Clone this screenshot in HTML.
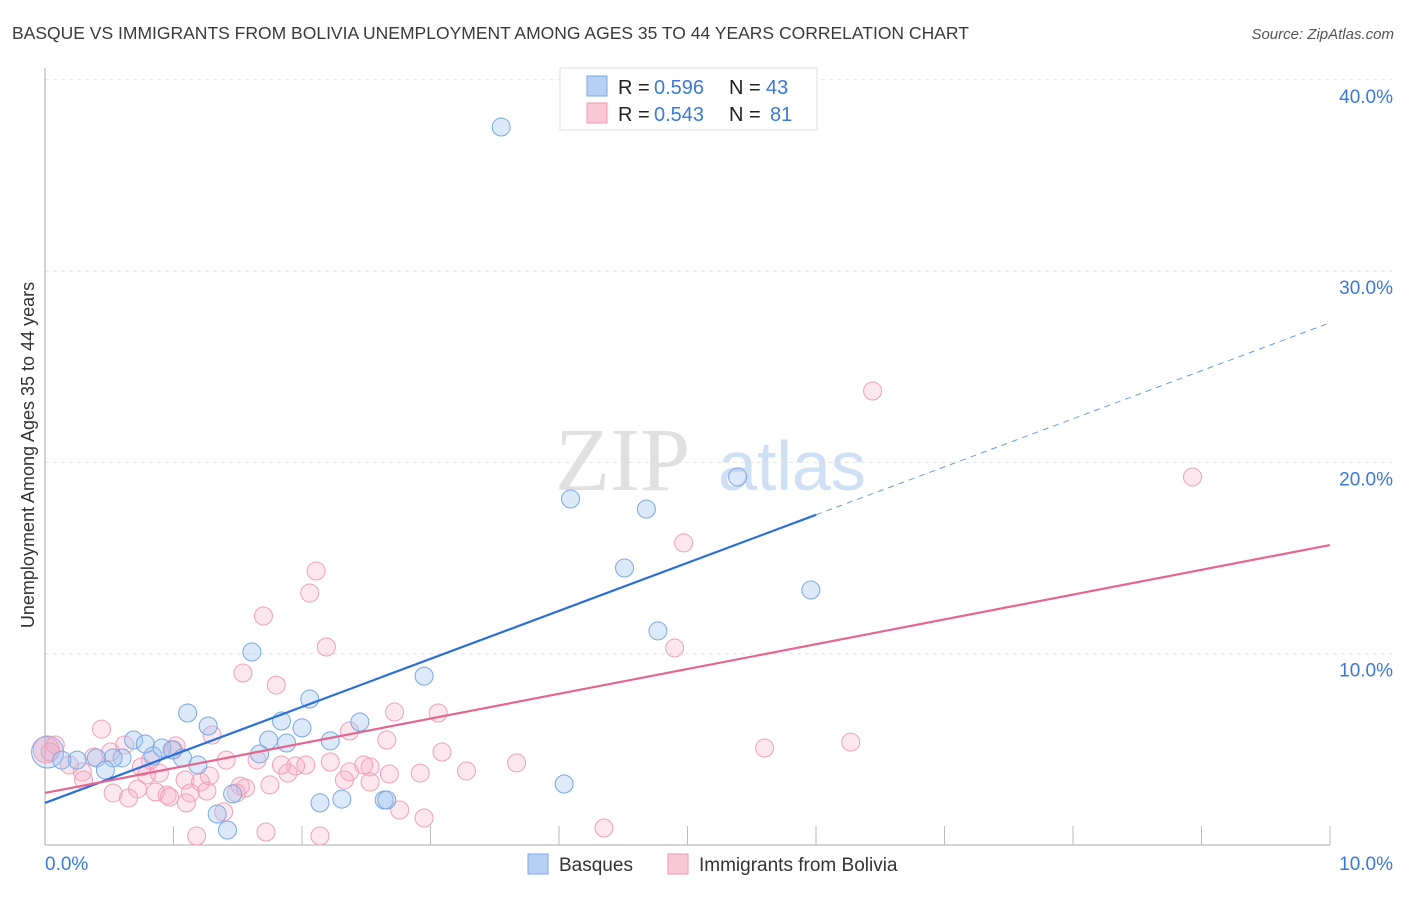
<!DOCTYPE html>
<html><head><meta charset="utf-8"><style>
body{margin:0;background:#fff;font-family:"Liberation Sans",sans-serif}
</style></head><body>
<svg width="1406" height="892" xmlns="http://www.w3.org/2000/svg" style="font-family:'Liberation Sans',sans-serif">
<text x="12" y="39" font-size="17.5" fill="#3a3a3a">BASQUE VS IMMIGRANTS FROM BOLIVIA UNEMPLOYMENT AMONG AGES 35 TO 44 YEARS CORRELATION CHART</text>
<text x="1394" y="39" font-size="15" fill="#555" font-style="italic" text-anchor="end">Source: ZipAtlas.com</text>
<g>
<text x="555" y="490" font-size="90" fill="#e0e0e0" font-family="Liberation Serif,serif">ZIP</text>
<text x="718" y="490" font-size="70" fill="#d0e0f4">atlas</text>
</g>
<g id="grid"></g>
<g id="axes"></g>
<g id="marks"></g>
<text transform="translate(34,455) rotate(-90)" text-anchor="middle" font-size="18" fill="#333">Unemployment Among Ages 35 to 44 years</text>
<g>
<rect x="560" y="68" width="257" height="62" fill="#fff" stroke="#ddd"/>
<rect x="587" y="76" width="20" height="20" fill="#b7d0f4" stroke="#7aa7e4"/>
<rect x="587" y="103" width="20" height="20" fill="#f9c8d6" stroke="#ec9ab4"/>
<text x="618" y="94" font-size="20" fill="#222">R =</text>
<text x="654" y="94" font-size="20" fill="#3b78d8">0.596</text>
<text x="729" y="94" font-size="20" fill="#222">N =</text>
<text x="766" y="94" font-size="20" fill="#3b78d8">43</text>
<text x="618" y="121" font-size="20" fill="#222">R =</text>
<text x="654" y="121" font-size="20" fill="#3b78d8">0.543</text>
<text x="729" y="121" font-size="20" fill="#222">N =</text>
<text x="770" y="121" font-size="20" fill="#3b78d8">81</text>
</g>
<g>
<rect x="528" y="854" width="20" height="20" fill="#b7d0f4" stroke="#7aa7e4"/>
<text x="559" y="871" font-size="19" fill="#333">Basques</text>
<rect x="668" y="854" width="20" height="20" fill="#f9c8d6" stroke="#ec9ab4"/>
<text x="699" y="871" font-size="19" fill="#333">Immigrants from Bolivia</text>
</g>
</svg>
<script>
const yTicks=[10,20,30,40];
const yTickLabels=["10.0%","20.0%","30.0%","40.0%"];
const xTicks=[1,2,3,4,5,6,7,8,9,10];
const basqueX=[3.55,4.09,4.68,5.39,4.51,5.96,4.77,2.95,1.61,2.06,1.11,1.27,1.84,2.00,2.45,1.74,1.88,2.22,1.67,0.69,0.78,0.91,0.99,0.84,1.07,0.60,0.53,0.40,0.25,0.13,1.19,0.47,1.46,2.14,2.31,2.64,2.66,4.04,1.34,1.42];
const basqueY=[37.53,18.09,17.56,19.24,14.48,13.33,11.19,8.83,10.09,7.63,6.90,6.22,6.48,6.12,6.43,5.49,5.33,5.44,4.76,5.49,5.28,5.07,4.97,4.65,4.55,4.55,4.55,4.55,4.44,4.44,4.18,3.92,2.67,2.20,2.40,2.35,2.35,3.19,1.62,0.78];
const boliviaX=[6.44,8.93,4.97,2.11,2.06,1.70,4.90,2.19,1.54,1.80,2.72,3.06,0.44,2.37,1.30,2.66,6.27,5.60,3.09,3.67,3.28,2.92,2.68,2.48,2.53,2.37,2.33,2.53,1.95,2.03,1.89,1.84,1.65,1.41,1.75,1.52,1.56,1.49,1.02,1.00,0.82,0.75,0.79,0.62,0.51,0.38,0.29,0.19,0.08,0.04,1.09,1.21,1.26,1.13,0.95,0.86,0.72,0.65,0.53,0.30,1.10,0.97,1.39,1.18,1.72,2.14,2.76,2.95,4.35,1.28,2.22,0.89];
const boliviaY=[23.73,19.24,15.79,14.32,13.17,11.97,10.30,10.35,8.99,8.36,6.95,6.90,6.06,5.96,5.75,5.49,5.38,5.07,4.86,4.29,3.87,3.76,3.71,4.18,4.08,3.82,3.40,3.29,4.13,4.18,3.76,4.18,4.44,4.44,3.14,3.08,2.98,2.72,5.18,4.97,4.44,4.08,3.66,5.23,4.86,4.60,3.82,4.18,5.23,4.86,3.40,3.29,2.82,2.72,2.61,2.77,2.93,2.46,2.72,3.40,2.20,2.51,1.73,0.47,0.68,0.47,1.83,1.41,0.89,3.61,4.34,3.76];
const basqueTrend=[2.2,27.3];
const boliviaTrend=[2.72,15.68];
const NS="http://www.w3.org/2000/svg";
const X=v=>45+v/10*1285, Y=v=>845-v*19.13;
function mk(p,t,a){const e=document.createElementNS(NS,t);for(const k in a)e.setAttribute(k,a[k]);p.appendChild(e);return e;}
const grid=document.getElementById('grid'),axes=document.getElementById('axes'),marks=document.getElementById('marks');
yTicks.forEach((t,i)=>{
 const l=mk(grid,'line',{x1:45,x2:1392,y1:Y(t),y2:Y(t),stroke:'#e2e2e2','stroke-dasharray':'4,4'});
 
 
 const tx=mk(axes,'text',{x:1393,y:Y(t)+23,'text-anchor':'end','font-size':19,fill:'#3b78d8'});
 tx.textContent=yTickLabels[i];
 
 
});
mk(axes,'line',{x1:45,x2:45,y1:68,y2:845,stroke:'#aaa'});
mk(axes,'line',{x1:45,x2:1330,y1:845,y2:845,stroke:'#aaa'});
xTicks.forEach(t=>{const l=mk(axes,'line',{x1:X(t),x2:X(t),y1:826,y2:845,stroke:'#bbb'});
 
 });
let t0=mk(axes,'text',{x:45,y:870,'font-size':19,fill:'#3b78d8'});t0.textContent='0.0%';


let t1=mk(axes,'text',{x:1393,y:870,'font-size':19,fill:'#3b78d8','text-anchor':'end'});t1.textContent='10.0%';


const b0=mk(marks,'circle',{cx:X(0.02),cy:Y(4.86),r:16,fill:'rgba(163,196,240,0.35)',stroke:'#7aa7e4','stroke-width':1});


const p0=mk(marks,'circle',{cx:X(0.01),cy:Y(4.97),r:13,fill:'rgba(240,150,180,0.3)',stroke:'#eea0b8','stroke-width':1});


boliviaX.forEach((x,i)=>{const c=mk(marks,'circle',{cx:X(x),cy:Y(boliviaY[i]),r:9,fill:'rgba(245,170,195,0.28)',stroke:'#eea0b8','stroke-width':1});
 
 });
basqueX.forEach((x,i)=>{const c=mk(marks,'circle',{cx:X(x),cy:Y(basqueY[i]),r:9,fill:'rgba(163,196,240,0.38)',stroke:'#7aa7e4','stroke-width':1});
 
 });
const bt=v=>basqueTrend[0]+(basqueTrend[1]-basqueTrend[0])*v/10;
const pt=v=>boliviaTrend[0]+(boliviaTrend[1]-boliviaTrend[0])*v/10;
let l1=mk(marks,'line',{x1:X(0),y1:Y(bt(0)),x2:X(6),y2:Y(bt(6)),stroke:'#2a6fd6','stroke-width':2.2});


let l2=mk(marks,'line',{x1:X(6),y1:Y(bt(6)),x2:X(10),y2:Y(bt(10)),stroke:'#6a9ae0','stroke-width':1,'stroke-dasharray':'6,5'});


let l3=mk(marks,'line',{x1:X(0),y1:Y(pt(0)),x2:X(10),y2:Y(pt(10)),stroke:'#e4668f','stroke-width':2.2});


</script>
</body></html>
